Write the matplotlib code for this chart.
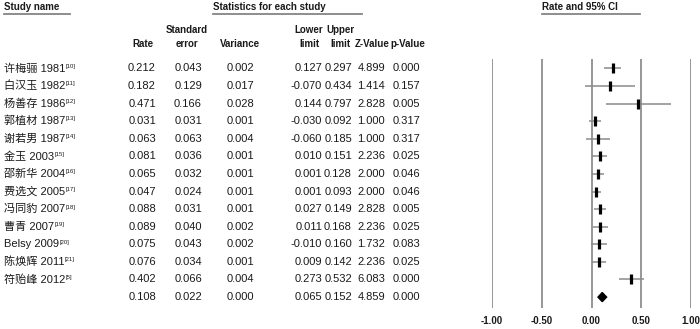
import matplotlib
matplotlib.use("Agg")
import matplotlib.pyplot as plt
from matplotlib import transforms
from matplotlib.lines import Line2D
from matplotlib.patches import Polygon

names = ["许梅骊 1981", "白汉玉 1982", "杨善存 1986", "郭植材 1987", "谢若男 1987",
         "金玉 2003", "邵新华 2004", "费选文 2005", "冯同豹 2007", "曹青 2007",
         "Belsy 2009", "陈焕辉 2011", "符贻峰 2012"]
refs = ["10", "11", "12", "13", "14", "15", "16", "17", "18", "19", "20", "21", "5"]

# last entry of each list is the pooled estimate
rate = [0.212, 0.182, 0.471, 0.031, 0.063, 0.081, 0.065, 0.047, 0.088, 0.089, 0.075, 0.076, 0.402, 0.108]
std_err = [0.043, 0.129, 0.166, 0.031, 0.063, 0.036, 0.032, 0.024, 0.031, 0.040, 0.043, 0.034, 0.066, 0.022]
variance = [0.002, 0.017, 0.028, 0.001, 0.004, 0.001, 0.001, 0.001, 0.001, 0.002, 0.002, 0.001, 0.004, 0.000]
lower = [0.127, -0.070, 0.144, -0.030, -0.060, 0.010, 0.001, 0.001, 0.027, 0.011, -0.010, 0.009, 0.273, 0.065]
upper = [0.297, 0.434, 0.797, 0.092, 0.185, 0.151, 0.128, 0.093, 0.149, 0.168, 0.160, 0.142, 0.532, 0.152]
z_value = [4.899, 1.414, 2.828, 1.000, 1.000, 2.236, 2.000, 2.000, 2.828, 2.236, 1.732, 2.236, 6.083, 4.859]
p_value = [0.000, 0.157, 0.005, 0.317, 0.317, 0.025, 0.046, 0.046, 0.005, 0.025, 0.083, 0.025, 0.000, 0.000]
x_ticks = [-1.0, -0.5, 0.0, 0.5, 1.0]

W, H = 700, 329
TXT = "#1a1a1a"
GRID = "#858585"
NUM_FONT = ["Liberation Sans", "Noto Sans CJK SC", "DejaVu Sans"]
HEAD_FONT = ["Liberation Sans", "DejaVu Sans"]


def fx(px):
    return px / W


def fy(py):
    return 1 - py / H


def main():
    fig = plt.figure(figsize=(W / 100, H / 100), dpi=100)
    ax = fig.add_axes([fx(492), fy(308), (691 - 492) / W, (308 - 59) / H])

    n = len(names)
    rows = list(range(n + 1))
    ax.set_xlim(-1, 1)
    ax.set_ylim(13.62, -0.53)

    for t in x_ticks:
        ax.axvline(t, color=GRID, lw=1.2, zorder=1)

    # study CIs and point estimates
    ax.hlines(rows[:n], lower[:n], upper[:n], color="#8a8a8a", lw=1.1, zorder=2)
    ax.plot(rate[:n], rows[:n], ls="none", marker="|", ms=7, mew=2.3, color="black", zorder=3)

    # pooled diamond
    yp = rows[n]
    h = 0.26
    ax.add_patch(Polygon([(lower[n], yp), (rate[n], yp - h), (upper[n], yp), (rate[n], yp + h)],
                         closed=True, color="black", zorder=3))

    for s in ax.spines.values():
        s.set_visible(False)
    ax.set_yticks([])
    ax.set_xticks(x_ticks)
    ax.set_xticklabels(["%.2f" % t for t in x_ticks], fontweight="bold", fontsize=7,
                       family=HEAD_FONT, color=TXT)
    ax.tick_params(axis="x", length=0, pad=6)

    # table text in figure x, data y
    trans = transforms.blended_transform_factory(fig.transFigure, ax.transData)
    for i in range(n):
        t = ax.text(fx(4), rows[i], names[i], transform=trans, ha="left", va="center",
                    fontsize=8, family=NUM_FONT, color=TXT, clip_on=False)
        ax.annotate("[" + refs[i] + "]", xy=(1, 1), xycoords=t, xytext=(0.3, -0.5),
                    textcoords="offset points", ha="left", va="top", fontsize=4.2,
                    family=NUM_FONT, color=TXT, annotation_clip=False)

    cols = [(156, rate, "%.3f"), (202, std_err, "%.3f"), (254, variance, "%.3f"),
            (322, lower, "%.3f"), (352, upper, "%.3f"), (385, z_value, "%.3f"),
            (420, p_value, "%.3f")]
    for xr, vals, fmt in cols:
        for i, v in enumerate(vals):
            ax.text(fx(xr), rows[i], fmt % v, transform=trans, ha="right", va="center",
                    fontsize=8, family=NUM_FONT, color=TXT, clip_on=False)

    # headers
    head = dict(fontweight="bold", fontsize=7, family=HEAD_FONT, color=TXT)
    fig.text(fx(4), fy(7), "Study name", ha="left", va="center", **head)
    fig.text(fx(213), fy(7), "Statistics for each study", ha="left", va="center", **head)
    fig.text(fx(542), fy(7), "Rate and 95% CI", ha="left", va="center", **head)
    for x0, x1 in [(4, 70), (213, 362), (542, 640)]:
        fig.add_artist(Line2D([fx(x0), fx(x1)], [fy(14), fy(14)], color=GRID, lw=1.3))

    col_heads = [(143, "", "Rate"), (187, "Standard", "error"), (240, "", "Variance"),
                 (309, "Lower", "limit"), (340, "Upper", "limit"), (372, "", "Z-Value"),
                 (408, "", "p-Value")]
    for xc, top, bottom in col_heads:
        if top:
            fig.text(fx(xc), fy(30), top, ha="center", va="center", **head)
        fig.text(fx(xc), fy(44), bottom, ha="center", va="center", **head)

    fig.savefig("out.png", dpi=100, facecolor="white")


if __name__ == "__main__":
    main()
